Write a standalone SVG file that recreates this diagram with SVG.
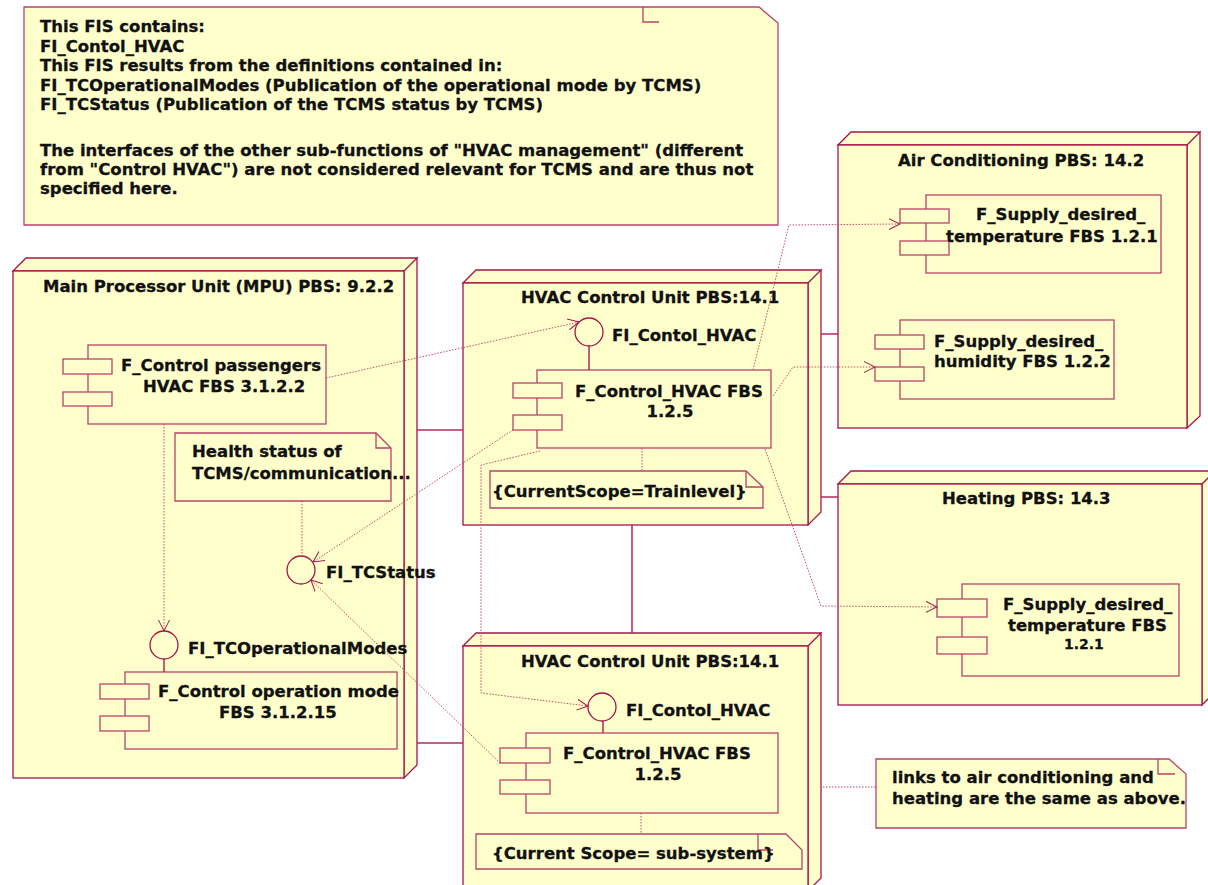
<svg xmlns="http://www.w3.org/2000/svg" width="1208" height="885" viewBox="0 0 1208 885">
<defs>
<style>
.node{fill:#FFFFCC;stroke:#A3154A;stroke-width:1.3}
.comp{fill:#FFFFCC;stroke:#B8426A;stroke-width:1.3}
.note{fill:#FFFFCC;stroke:#B8426A;stroke-width:1.3}
.fold{fill:none;stroke:#B8426A;stroke-width:1.3}
.dot{fill:none;stroke:#C24A72;stroke-width:1;stroke-dasharray:1.5 1.5}
.solid{fill:none;stroke:#B0285A;stroke-width:1.5}
.iface{fill:#FFFFCC;stroke:#A3154A;stroke-width:1.3}
text{font-family:"DejaVu Sans",Verdana,sans-serif;font-weight:bold;font-size:16.5px;fill:#111;stroke:#111;stroke-width:0.3}
.sm{font-size:14px}
</style>
<marker id="arr" markerUnits="userSpaceOnUse" markerWidth="12" markerHeight="12" refX="11" refY="6" orient="auto">
<path d="M0,0.5 L11,6 L0,11.5" fill="none" stroke="#A3154A" stroke-width="1"/>
</marker>
</defs>

<g id="note-top">
<polygon class="note" points="24,7 759,7 778,23 778,225 24,225"/>
<polyline class="fold" points="643,7 643,22 659,22"/>
<text x="40" y="32">This FIS contains:</text>
<text x="40" y="52">FI_Contol_HVAC</text>
<text x="40" y="71">This FIS results from the definitions contained in:</text>
<text x="40" y="91">FI_TCOperationalModes (Publication of the operational mode by TCMS)</text>
<text x="40" y="110">FI_TCStatus (Publication of the TCMS status by TCMS)</text>
<text x="40" y="156">The interfaces of the other sub-functions of "HVAC management" (different</text>
<text x="40" y="175">from "Control HVAC") are not considered relevant for TCMS and are thus not</text>
<text x="40" y="194">specified here.</text>
</g>

<g id="node-mpu">
<path class="node" d="M13,271 L26,258 L417,258 L404,271 Z M404,271 L417,258 L417,765 L404,778 Z"/>
<rect class="node" x="13" y="271" width="391" height="507"/>
<text x="43" y="292">Main Processor Unit (MPU) PBS: 9.2.2</text>
</g>

<g id="node-hvac-top">
<path class="node" d="M463,283 L476,270 L821,270 L808,283 Z M808,283 L821,270 L821,512 L808,525 Z"/>
<rect class="node" x="463" y="283" width="345" height="242"/>
<text x="521" y="303">HVAC Control Unit PBS:14.1</text>
</g>

<g id="node-hvac-bottom">
<path class="node" d="M463,646 L476,633 L821,633 L808,646 Z M808,646 L821,633 L821,878 L808,891 Z"/>
<rect class="node" x="463" y="646" width="345" height="245"/>
<text x="521" y="667">HVAC Control Unit PBS:14.1</text>
</g>

<g id="node-aircond">
<path class="node" d="M838,145 L851,132 L1200,132 L1187,145 Z M1187,145 L1200,132 L1200,416 L1187,428 Z"/>
<rect class="node" x="838" y="145" width="349" height="283"/>
<text x="898" y="166">Air Conditioning PBS: 14.2</text>
</g>

<g id="node-heating">
<path class="node" d="M838,484 L851,471 L1215,471 L1202,484 Z M1202,484 L1215,471 L1215,692 L1202,705 Z"/>
<rect class="node" x="838" y="484" width="364" height="221"/>
<text x="942" y="504">Heating PBS: 14.3</text>
</g>

<g id="comp-passengers">
<rect class="comp" x="88" y="345" width="238" height="79"/>
<rect class="comp" x="63" y="359" width="49" height="15"/>
<rect class="comp" x="63" y="392" width="49" height="14"/>
<text x="121" y="371">F_Control passengers</text>
<text x="143" y="392">HVAC FBS 3.1.2.2</text>
</g>

<g id="note-health">
<polygon class="note" points="175,433 376,433 391,448 391,501 175,501"/>
<polyline class="fold" points="376,433 376,448 391,448"/>
<text x="192" y="457">Health status of</text>
<text x="192" y="479">TCMS/communication...</text>
</g>

<g id="iface-tcstatus">
<circle class="iface" cx="301" cy="570" r="14"/>
<text x="326" y="578">FI_TCStatus</text>
</g>

<g id="iface-tcopmodes">
<circle class="iface" cx="164" cy="645" r="14"/>
<text x="188" y="654">FI_TCOperationalModes</text>
</g>

<g id="comp-opmode">
<rect class="comp" x="125" y="672" width="272" height="77"/>
<rect class="comp" x="100" y="684" width="49" height="15"/>
<rect class="comp" x="100" y="716" width="49" height="15"/>
<text x="158" y="697">F_Control operation mode</text>
<text x="219" y="718">FBS 3.1.2.15</text>
</g>

<g id="iface-hvac-top">
<circle class="iface" cx="589" cy="332" r="14"/>
<text x="612" y="341">FI_Contol_HVAC</text>
</g>

<g id="comp-hvac-top">
<rect class="comp" x="537" y="370" width="234" height="78"/>
<rect class="comp" x="513" y="383" width="49" height="15"/>
<rect class="comp" x="513" y="415" width="49" height="15"/>
<text x="575" y="397">F_Control_HVAC FBS</text>
<text x="670" y="417" text-anchor="middle">1.2.5</text>
</g>

<g id="note-trainlevel">
<polygon class="note" points="490,471 746,471 763,487 763,508 490,508"/>
<polyline class="fold" points="746,471 746,487 763,487"/>
<text x="492" y="497">{CurrentScope=Trainlevel}</text>
</g>

<g id="iface-hvac-bottom">
<circle class="iface" cx="602" cy="707" r="14"/>
<text x="626" y="716">FI_Contol_HVAC</text>
</g>

<g id="comp-hvac-bottom">
<rect class="comp" x="526" y="733" width="252" height="80"/>
<rect class="comp" x="500" y="748" width="50" height="15"/>
<rect class="comp" x="500" y="780" width="50" height="14"/>
<text x="563" y="759">F_Control_HVAC FBS</text>
<text x="658" y="780" text-anchor="middle">1.2.5</text>
</g>

<g id="note-subsystem">
<polygon class="note" points="476,834 786,834 802,850 802,869 476,869"/>
<polyline class="fold" points="758,834 758,850 773,850"/>
<text x="492" y="859">{Current Scope= sub-system}</text>
</g>

<g id="comp-ac-temp">
<rect class="comp" x="926" y="195" width="235" height="78"/>
<rect class="comp" x="900" y="209" width="49" height="14"/>
<rect class="comp" x="900" y="241" width="49" height="14"/>
<text x="976" y="220">F_Supply_desired_</text>
<text x="946" y="242">temperature FBS 1.2.1</text>
</g>

<g id="comp-ac-humidity">
<rect class="comp" x="900" y="320" width="214" height="79"/>
<rect class="comp" x="875" y="335" width="49" height="14"/>
<rect class="comp" x="875" y="367" width="49" height="14"/>
<text x="934" y="347">F_Supply_desired_</text>
<text x="934" y="367">humidity FBS 1.2.2</text>
</g>

<g id="comp-heat-temp">
<rect class="comp" x="962" y="584" width="217" height="92"/>
<rect class="comp" x="937" y="599" width="50" height="18"/>
<rect class="comp" x="937" y="637" width="50" height="17"/>
<text x="1003" y="610">F_Supply_desired_</text>
<text x="1008" y="631">temperature FBS</text>
<text class="sm" x="1064" y="649">1.2.1</text>
</g>

<g id="note-links">
<polygon class="note" points="876,759 1169,759 1186,774 1186,828 876,828"/>
<polyline class="fold" points="1158,759 1158,774 1175,774"/>
<text x="892" y="783">links to air conditioning and</text>
<text x="892" y="804">heating are the same as above.</text>
</g>

<g id="connectors">
<line class="solid" x1="417" y1="430" x2="463" y2="430"/>
<line class="solid" x1="417" y1="743" x2="463" y2="743"/>
<line class="solid" x1="632" y1="525" x2="632" y2="633"/>
<line class="solid" x1="821" y1="334" x2="838" y2="334"/>
<line class="solid" x1="821" y1="497" x2="838" y2="497"/>
<line class="solid" x1="589" y1="346" x2="589" y2="370"/>
<line class="solid" x1="164" y1="659" x2="164" y2="672"/>
<line class="solid" x1="603" y1="721" x2="603" y2="733"/>
<polyline class="dot" points="326,378 579,322" marker-end="url(#arr)"/>
<polyline class="dot" points="164,424 164,631" marker-end="url(#arr)"/>
<polyline class="dot" points="302,501 302,556"/>
<polyline class="dot" points="513,430 313,562" marker-end="url(#arr)"/>
<polyline class="dot" points="500,763 311,580" marker-end="url(#arr)"/>
<polyline class="dot" points="540,451 481,465 481,693 588,706" marker-end="url(#arr)"/>
<polyline class="dot" points="753,370 789,225 900,224" marker-end="url(#arr)"/>
<polyline class="dot" points="773,396 793,367 875,367" marker-end="url(#arr)"/>
<polyline class="dot" points="765,449 821,606 937,607" marker-end="url(#arr)"/>
<polyline class="dot" points="642,448 642,471"/>
<polyline class="dot" points="641,813 641,834"/>
<polyline class="dot" points="823,787 876,787"/>
</g>
</svg>
